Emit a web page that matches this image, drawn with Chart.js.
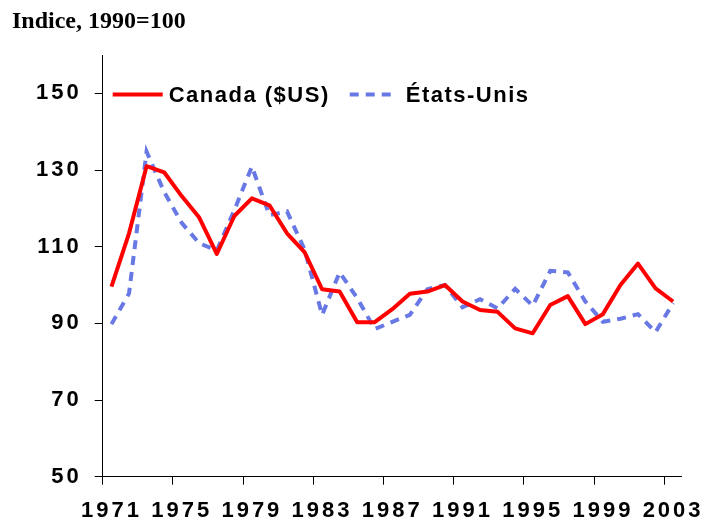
<!DOCTYPE html>
<html><head><meta charset="utf-8">
<script src="https://cdn.jsdelivr.net/npm/chart.js@4.4.1/dist/chart.umd.min.js"></script>
<style>html,body{margin:0;padding:0;background:#fff;} canvas{display:block;}</style>
</head><body>
<canvas id="c" width="718" height="521"></canvas>
<script>
const titleText = 'Indice, 1990=100';
const seriesNames = ['Canada ($US)', 'États-Unis'];
const years = ['1971','1972','1973','1974','1975','1976','1977','1978','1979','1980',
  '1981','1982','1983','1984','1985','1986','1987','1988','1989','1990',
  '1991','1992','1993','1994','1995','1996','1997','1998','1999','2000',
  '2001','2002','2003'];
const canadaUSD = [99.6, 113.5, 131.0, 129.4, 123.2, 117.6, 108.1, 118.0, 122.6, 120.8,
  113.5, 108.6, 98.9, 98.3, 90.3, 90.3, 93.7, 97.7, 98.3, 100.0,
  95.7, 93.5, 93.0, 88.7, 87.4, 94.8, 97.1, 89.8, 92.4, 100.0,
  105.6, 99.1, 95.7];
const etatsUnis = [89.8, 97.8, 134.8, 124.3, 116.2, 110.9, 109.0, 119.5, 130.9, 118.2,
  119.2, 109.3, 92.2, 103.3, 96.6, 88.5, 90.4, 92.2, 98.9, 100.0,
  94.2, 96.3, 93.9, 99.0, 94.6, 103.7, 103.3, 95.7, 90.4, 91.2,
  92.4, 87.7, 95.3];
const yTicks = [50, 70, 90, 110, 130, 150];
const yMin = 50, yMax = 160;

const SANS = '"Liberation Sans", Arial, sans-serif';

const spacingPlugin = {
  id: 'spacing',
  beforeLayout(chart) { chart.ctx.letterSpacing = '3px'; },
  afterLayout(chart) {
    chart.ctx.letterSpacing = '0px';
    Object.values(chart.scales).forEach(s => {
      if (!s._wrappedLabels) {
        const orig = s.drawLabels;
        s.drawLabels = function (a) {
          const c = this.ctx; c.save(); c.letterSpacing = '3px'; orig.call(this, a); c.restore();
        };
        s._wrappedLabels = true;
      }
    });
  }
};

const insideLegend = {
  id: 'insideLegend',
  afterDatasetsDraw(chart) {
    const {ctx, chartArea} = chart;
    ctx.save();
    ctx.font = 'bold 22px ' + SANS;
    ctx.letterSpacing = '1.5px';
    ctx.textBaseline = 'middle';
    ctx.textAlign = 'left';
    ctx.fillStyle = '#000';
    let x = chartArea.left + 10;
    const y = chartArea.top + 39.5;
    chart.data.datasets.forEach((ds, i) => {
      const len = i === 0 ? 50 : 47;
      ctx.beginPath();
      ctx.strokeStyle = ds.borderColor;
      ctx.lineWidth = ds.borderWidth;
      ctx.lineCap = 'butt';
      ctx.setLineDash(ds.borderDash || []);
      ctx.moveTo(x, y); ctx.lineTo(x + len, y); ctx.stroke();
      ctx.setLineDash([]);
      x += len + (i === 0 ? 6 : 9);
      ctx.fillText(ds.label, x, y + 1);
      x += ctx.measureText(ds.label).width + 20;
    });
    ctx.restore();
  }
};

new Chart(document.getElementById('c'), {
  type: 'line',
  data: {
    labels: years,
    datasets: [
      { label: seriesNames[0], data: canadaUSD, borderColor: '#FF0000', borderWidth: 4,
        pointRadius: 0, tension: 0, fill: false, borderJoinStyle: 'round' },
      { label: seriesNames[1], data: etatsUnis, borderColor: 'rgb(104,120,228)', borderWidth: 4,
        borderDash: [9, 7], pointRadius: 0, tension: 0, fill: false, borderCapStyle: 'butt' }
    ]
  },
  options: {
    responsive: false,
    devicePixelRatio: 1,
    animation: false,
    layout: { padding: { left: 12, right: 28.4, top: 0, bottom: 0 } },
    plugins: {
      legend: { display: false },
      tooltip: { enabled: false },
      title: {
        display: true, text: titleText, align: 'start', color: '#000',
        font: { family: '"Liberation Serif", "Times New Roman", serif', size: 24, weight: 'bold' },
        padding: { top: 7, bottom: 19.2 }
      }
    },
    scales: {
      x: {
        offset: true,
        grid: {
          offset: true, drawOnChartArea: false, tickLength: 8,
          tickColor: (c) => (c.index % 4 === 0 ? '#000' : 'rgba(0,0,0,0)')
        },
        border: { display: true, color: '#000', width: 1 },
        ticks: {
          autoSkip: false, maxRotation: 0, minRotation: 0, padding: 14, color: '#000',
          font: { family: SANS, size: 22, weight: 'bold', lineHeight: 1.1 },
          callback: function (v, i) { return i % 4 === 0 ? this.getLabelForValue(v) : ''; }
        },
        afterFit: (s) => { s.height = 44.3; }
      },
      y: {
        min: yMin, max: yMax,
        grid: { drawOnChartArea: false, tickLength: 8, tickColor: '#000' },
        border: { display: true, color: '#000', width: 1 },
        ticks: {
          includeBounds: false, padding: 13, color: '#000',
          font: { family: SANS, size: 22, weight: 'bold' }
        },
        afterBuildTicks: (s) => { s.ticks = yTicks.map(v => ({ value: v })); },
        afterFit: (s) => { s.width = 90.7; }
      }
    }
  },
  plugins: [spacingPlugin, insideLegend]
});
</script>
</body></html>
